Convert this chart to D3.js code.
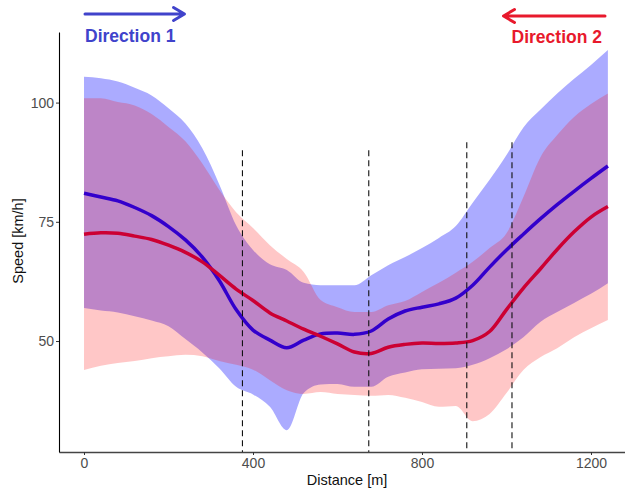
<!DOCTYPE html>
<meta charset="utf-8">
<head>
<script src="https://d3js.org/d3.v7.min.js"></script>
<style>
  body { margin: 0; background: #fff; }
  text { font-family: "Liberation Sans", Arial, sans-serif; }
</style>
</head>
<body>
<div id="my_dataviz"></div>
<script>

// data
var distance = [0, 40, 80, 120, 160, 200, 240, 280, 320, 360, 400, 440, 480, 520, 560, 600,
                640, 680, 720, 760, 800, 840, 880, 920, 960, 1000, 1040, 1080, 1120, 1160, 1200, 1240];

var dir1Mean = [81.0, 80.2, 79.4, 78.0, 76.3, 74.0, 71.2, 67.6, 62.7, 56.6, 52.3, 50.2, 48.6, 50.2, 51.5, 51.7,
                51.4, 52.1, 54.6, 56.3, 57.1, 57.8, 59.0, 61.7, 65.5, 69.1, 72.4, 75.6, 78.6, 81.4, 84.1, 86.7];
var dir1Hi   = [105.4, 105.1, 104.4, 103.1, 101.5, 98.8, 95.6, 90.4, 82.9, 74.3, 69.1, 66.1, 64.9, 62.2, 61.7, 61.7,
                61.7, 63.8, 65.9, 67.6, 69.5, 71.6, 74.1, 79.0, 83.8, 89.0, 94.8, 98.5, 101.9, 105.0, 107.9, 111.0];
var dir1Lo   = [56.9, 56.4, 56.0, 55.2, 54.3, 53.1, 50.4, 47.6, 44.3, 40.4, 38.8, 36.2, 31.3, 39.1, 40.9, 41.0,
                40.4, 40.4, 42.5, 43.4, 44.1, 44.2, 44.3, 45.0, 46.4, 48.3, 50.8, 54.0, 56.1, 58.0, 59.9, 62.1];

var dir2Mean = [72.4, 72.7, 72.6, 72.0, 71.3, 70.1, 68.6, 66.6, 63.8, 60.9, 58.5, 55.9, 54.2, 52.5, 51.0, 49.4,
                47.7, 47.4, 48.7, 49.3, 49.6, 49.5, 49.6, 50.1, 52.0, 56.6, 61.1, 65.1, 69.2, 72.9, 76.0, 78.2];
var dir2Hi   = [100.9, 100.9, 100.1, 99.4, 97.6, 94.9, 91.9, 87.2, 81.7, 77.0, 73.7, 70.1, 67.2, 64.5, 58.6, 57.1,
                56.1, 56.1, 57.5, 58.4, 60.3, 62.2, 64.3, 66.6, 69.5, 72.6, 80.2, 88.5, 93.2, 97.0, 99.7, 101.9];
var dir2Lo   = [43.9, 44.8, 45.4, 45.8, 46.4, 46.8, 47.1, 46.8, 45.8, 45.0, 44.0, 41.8, 39.7, 38.9, 39.3, 38.9,
                38.7, 38.5, 38.7, 38.1, 37.2, 36.2, 36.4, 33.2, 34.7, 39.1, 43.9, 46.6, 48.5, 50.8, 52.7, 54.4];

var sectionBreaks = [375, 674, 906, 1013];
var sectionTops   = [90.0, 90.0, 91.7, 91.7];

var xTicks = [0, 400, 800, 1200];
var yTicks = [50, 75, 100];

// dimensions
var margin = {top: 32, right: 0, bottom: 39, left: 59},
    width = 625 - margin.left - margin.right,
    height = 491 - margin.top - margin.bottom;

var svg = d3.select("#my_dataviz")
    .append("svg")
    .attr("width", 625)
    .attr("height", 491);

var g = svg.append("g")
    .attr("transform", "translate(" + margin.left + "," + margin.top + ")");

var x = d3.scaleLinear()
    .domain([-59.2, 1280.5])
    .range([0, width]);

var y = d3.scaleLinear()
    .domain([26.73, 114.8])
    .range([height, 0]);

function rows(lo, hi, mean) {
  return distance.map(function(d, i) { return {d: d, lo: lo[i], hi: hi[i], m: mean[i]}; });
}
var dir1 = rows(dir1Lo, dir1Hi, dir1Mean);
var dir2 = rows(dir2Lo, dir2Hi, dir2Mean);

var band = d3.area()
    .x(function(d) { return x(d.d); })
    .y0(function(d) { return y(d.lo); })
    .y1(function(d) { return y(d.hi); })
    .curve(d3.curveMonotoneX);

var meanLine = d3.line()
    .x(function(d) { return x(d.d); })
    .y(function(d) { return y(d.m); })
    .curve(d3.curveCatmullRom);

// ribbons
g.append("path").datum(dir1).attr("d", band)
    .attr("fill", "rgb(0,0,255)").attr("fill-opacity", 0.33);
g.append("path").datum(dir2).attr("d", band)
    .attr("fill", "rgb(255,0,0)").attr("fill-opacity", 0.22);

// mean lines
g.append("path").datum(dir1).attr("d", meanLine)
    .attr("fill", "none").attr("stroke", "#3300cc").attr("stroke-width", 3.5);
g.append("path").datum(dir2).attr("d", meanLine)
    .attr("fill", "none").attr("stroke", "#cc0033").attr("stroke-width", 3.5);

// section boundaries
g.selectAll(".sect")
    .data(sectionBreaks)
    .enter()
    .append("line")
    .attr("x1", function(d) { return x(d); })
    .attr("x2", function(d) { return x(d); })
    .attr("y1", function(d, i) { return y(sectionTops[i]); })
    .attr("y2", height)
    .attr("stroke", "#111")
    .attr("stroke-width", 1.1)
    .attr("stroke-dasharray", "6,4");

// axes
var xAxis = g.append("g")
    .attr("transform", "translate(0," + height + ")")
    .call(d3.axisBottom(x).tickValues(xTicks).tickFormat(d3.format("d"))
      .tickSize(3).tickSizeOuter(0).tickPadding(3));
var yAxis = g.append("g")
    .call(d3.axisLeft(y).tickValues(yTicks).tickFormat(d3.format("d"))
      .tickSize(3).tickSizeOuter(0).tickPadding(2));

[xAxis, yAxis].forEach(function(a) {
  a.selectAll(".tick line").attr("stroke", "#333");
  a.selectAll(".tick text")
    .attr("fill", "#4d4d4d")
    .style("font-size", "14px")
    .style("font-family", "'Liberation Sans', Arial, sans-serif");
});
xAxis.select(".domain").attr("stroke", "#444").attr("stroke-width", 1.4);
yAxis.select(".domain").attr("stroke", "#000").attr("stroke-width", 1.1);

// axis titles
svg.append("text")
    .attr("x", 347)
    .attr("y", 485)
    .attr("text-anchor", "middle")
    .style("font-size", "14.5px")
    .attr("fill", "#111")
    .text("Distance [m]");

svg.append("text")
    .attr("transform", "translate(23,241) rotate(-90)")
    .attr("text-anchor", "middle")
    .style("font-size", "14.5px")
    .attr("fill", "#111")
    .text("Speed [km/h]");

// direction arrows and labels
var blue = "#4043cb", red = "#e8192c";

svg.append("path")
    .attr("d", "M85,14 H184 M173.5,7.5 L184.5,14 L173.5,20.5")
    .attr("fill", "none").attr("stroke", blue).attr("stroke-width", 3)
    .attr("stroke-linecap", "round").attr("stroke-linejoin", "round");
svg.append("text")
    .attr("x", 85).attr("y", 42)
    .style("font-size", "17.5px")
    .style("font-weight", "bold")
    .attr("fill", blue)
    .text("Direction 1");

svg.append("path")
    .attr("d", "M605,16 H504 M514.5,9.5 L503.5,16 L514.5,22.5")
    .attr("fill", "none").attr("stroke", red).attr("stroke-width", 3)
    .attr("stroke-linecap", "round").attr("stroke-linejoin", "round");
svg.append("text")
    .attr("x", 602).attr("y", 43)
    .attr("text-anchor", "end")
    .style("font-size", "17.5px")
    .style("font-weight", "bold")
    .attr("fill", red)
    .text("Direction 2");

</script>
</body>
